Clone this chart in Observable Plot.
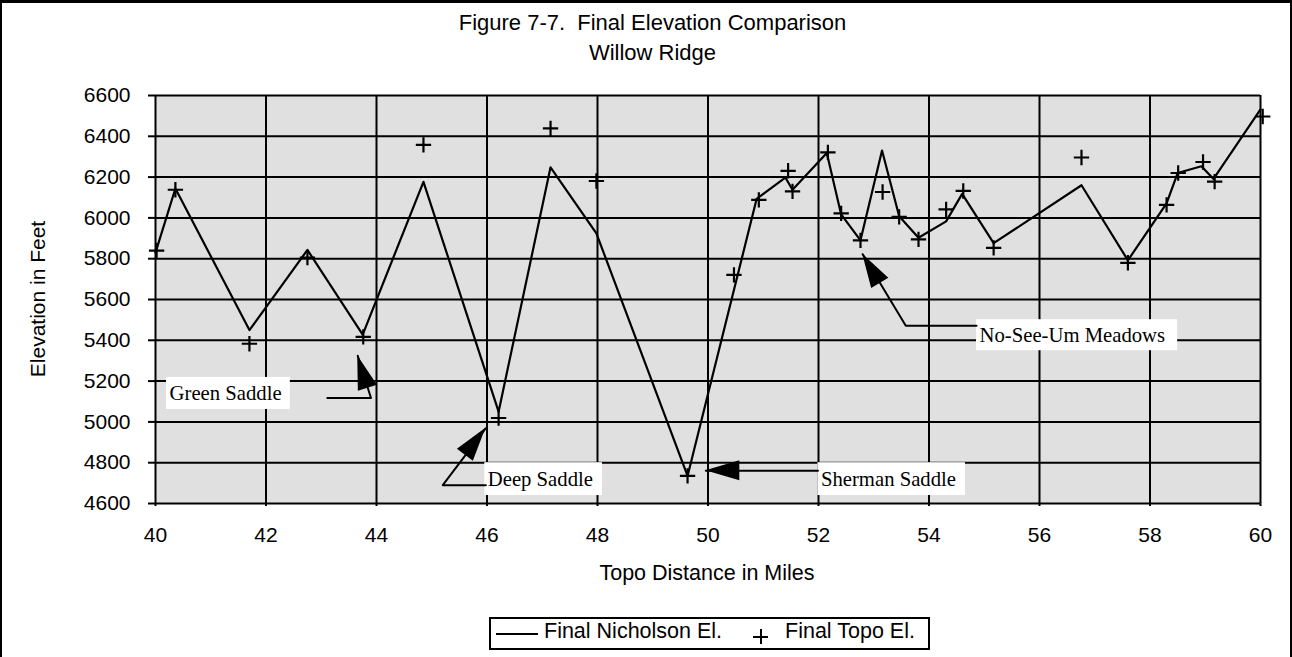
<!DOCTYPE html>
<html>
<head>
<meta charset="utf-8">
<script src="https://cdn.jsdelivr.net/npm/d3@7"></script>
<script src="https://cdn.jsdelivr.net/npm/@observablehq/plot@0.6"></script>
<style>
  html, body { margin: 0; padding: 0; background: #fff; }
  #page { position: relative; width: 1292px; height: 657px; overflow: hidden; background: #fff;
          font-family: "Liberation Sans", Arial, sans-serif; color: #000; }
  #border { position: absolute; left: 0; top: 0; width: 1292px; height: 660px; box-sizing: border-box;
            border: 2px solid #000; border-top-width: 3px; pointer-events: none; }
  #chart { position: absolute; left: 0; top: 0; }
  #title { position: absolute; left: 0; top: 8px; width: 1305px; text-align: center; font-size: 22px; line-height: 30px; }
  #xtitle { position: absolute; left: 707px; top: 561px; transform: translateX(-50%); font-size: 21.5px; line-height: 24px; white-space: nowrap; }
  #ytitle { position: absolute; left: 38px; top: 299px; transform: translate(-50%, -50%) rotate(-90deg); font-size: 21px; line-height: 24px; white-space: nowrap; }
  #legend { position: absolute; left: 489px; top: 617px; width: 441px; height: 33px; box-sizing: border-box;
            border: 2px solid #000; background: #fff; display: flex; align-items: center; font-size: 21.5px; white-space: nowrap; }
  #legend .tx { position: relative; top: -2px; }
  #legend .ln { display: inline-block; width: 42px; height: 2px; background: #000; margin-left: 5px; margin-right: 6px; }
  #legend .pl { display: inline-block; width: 15px; height: 15px; position: relative; margin-left: 31px; margin-right: 17px; top: 3px; }
  #legend .pl:before { content: ""; position: absolute; left: 0; top: 6.5px; width: 15px; height: 2px; background: #000; }
  #legend .pl:after { content: ""; position: absolute; left: 6.5px; top: 0; width: 2px; height: 15px; background: #000; }
  #chart g[aria-label*="tick"] { stroke-width: 2px; }
  #chart .tick line { stroke-width: 2px; }
</style>
</head>
<body>
<div id="page">
  <div id="chart"></div>
  <div id="title">Figure 7-7.&nbsp; Final Elevation Comparison<br>Willow Ridge</div>
  <div id="ytitle">Elevation in Feet</div>
  <div id="xtitle">Topo Distance in Miles</div>
  <div id="legend"><span class="ln"></span><span class="tx">Final Nicholson El.</span><span class="pl"></span><span class="tx">Final Topo El.</span></div>
  <div id="border"></div>
</div>
<script>
// ---- data ----
const nicholsonMiles = [40.0, 40.36, 41.70, 42.75, 43.75, 44.85, 46.21, 47.15, 47.98, 49.63, 50.88, 51.40, 51.53, 52.15, 52.41, 52.76, 53.15, 53.46, 53.81, 54.31, 54.60, 55.17, 56.76, 57.60, 58.30, 58.50, 58.93, 59.15, 60.0];
const nicholsonElev  = [5830, 6144, 5450, 5843, 5428, 6177, 5050, 6248, 5924, 4735, 6093, 6198, 6138, 6318, 6017, 5890, 6330, 6008, 5903, 5983, 6118, 5876, 6160, 5792, 6071, 6220, 6253, 6191, 6532];

const topoMiles = [40.02, 40.36, 41.70, 42.75, 43.76, 44.85, 46.21, 47.15, 47.98, 49.63, 50.47, 50.92, 51.45, 51.53, 52.17, 52.41, 52.76, 53.16, 53.46, 53.81, 54.31, 54.62, 55.17, 56.76, 57.60, 58.30, 58.51, 58.96, 59.17, 60.04];
const topoElev  = [5840, 6138, 5383, 5805, 5417, 6358, 5019, 6439, 6181, 4735, 5721, 6088, 6231, 6130, 6321, 6022, 5890, 6127, 6005, 5895, 6042, 6132, 5853, 6296, 5780, 6064, 6220, 6274, 6178, 6497];

const xTicks = [40, 42, 44, 46, 48, 50, 52, 54, 56, 58, 60];
const yTicks = [4600, 4800, 5000, 5200, 5400, 5600, 5800, 6000, 6200, 6400, 6600];

// annotation labels and their boxes (data units)
const annLabels = ["Green Saddle", "Deep Saddle", "Sherman Saddle", "No-See-Um Meadows"];
const annX1 = [40.20, 45.96, 51.99, 54.86];
const annX2 = [42.44, 48.09, 54.66, 58.50];
const annY1 = [5061, 4639, 4639, 5349];
const annY2 = [5218, 4800, 4800, 5501];

// leader lines (last point = arrow tip)
const leaderId    = [0, 0, 0, 1, 1, 1, 2, 2, 3, 3, 3];
const leaderMiles = [43.11, 43.90, 43.66, 45.98, 45.20, 45.98, 51.99, 49.96, 54.86, 53.58, 52.80];
const leaderElev  = [5117, 5117, 5324, 4690, 4690, 4969, 4761, 4761, 5471, 5471, 5822];

// ---- tables ----
const nich = nicholsonMiles.map((x, i) => ({x, y: nicholsonElev[i]}));
const topo = topoMiles.map((x, i) => ({x, y: topoElev[i]}));
const ann = annLabels.map((t, i) => ({t, x1: annX1[i], x2: annX2[i], y1: annY1[i], y2: annY2[i]}));
const leaders = leaderMiles.map((x, i) => ({id: leaderId[i], x, y: leaderElev[i]}));

const chart = Plot.plot({
  width: 1292, height: 657,
  marginLeft: 155, marginRight: 32, marginTop: 95, marginBottom: 154,
  style: {fontFamily: '"Liberation Sans", Arial, sans-serif', fontSize: "21px", color: "#000", background: "transparent", overflow: "visible"},
  x: {domain: [40, 60], ticks: xTicks, tickSize: 3, tickPadding: 21, label: null},
  y: {domain: [4600, 6600], ticks: yTicks, tickSize: 7, tickPadding: 18, label: null, tickFormat: d => String(d)},
  marks: [
    Plot.frame({fill: "#e0e0e0", stroke: "none"}),
    Plot.ruleX(xTicks, {stroke: "#000", strokeWidth: 2}),
    Plot.ruleY(yTicks, {stroke: "#000", strokeWidth: 2}),
    Plot.line(nich, {x: "x", y: "y", stroke: "#000", strokeWidth: 2.2}),
    Plot.dot(topo, {x: "x", y: "y", symbol: "plus", r: 5, stroke: "#000", strokeWidth: 2.2}),
    Plot.rect(ann, {x1: "x1", x2: "x2", y1: "y1", y2: "y2", fill: "#fff"}),
    Plot.text(ann, {x: "x1", y: d => (d.y1 + d.y2) / 2, text: "t", textAnchor: "start", dx: 3,
      fontFamily: '"Liberation Serif", "Times New Roman", serif', fontSize: 20.7, fill: "#000"}),
    Plot.line(leaders, {x: "x", y: "y", z: "id", stroke: "#000", strokeWidth: 2})
  ]
});
document.getElementById("chart").appendChild(chart);

// filled arrowheads at the leader tips, placed with the plot's own scales
function getScale(name) {
  const s = chart.scale(name);
  if (s && typeof s.apply === "function") return v => s.apply(v);
  const lin = d3.scaleLinear().domain(s.domain).range(s.range);
  return v => lin(v);
}
const sx = getScale("x"), sy = getScale("y");
const g = d3.select(chart).append("g").attr("aria-label", "arrowheads");
d3.groups(leaders, d => d.id).forEach(([id, pts]) => {
  const tip = pts[pts.length - 1], prev = pts[pts.length - 2];
  const tx = sx(tip.x), ty = sy(tip.y), px = sx(prev.x), py = sy(prev.y);
  const dx = tx - px, dy = ty - py, len = Math.hypot(dx, dy);
  const ux = dx / len, uy = dy / len, L = 34, W = 10;
  const bx = tx - ux * L, by = ty - uy * L;
  const nx = -uy, ny = ux;
  g.append("polygon")
    .attr("points", [[tx, ty], [bx + nx * W, by + ny * W], [bx - nx * W, by - ny * W]].map(p => p.join(",")).join(" "))
    .attr("fill", "#000");
});
</script>
</body>
</html>
